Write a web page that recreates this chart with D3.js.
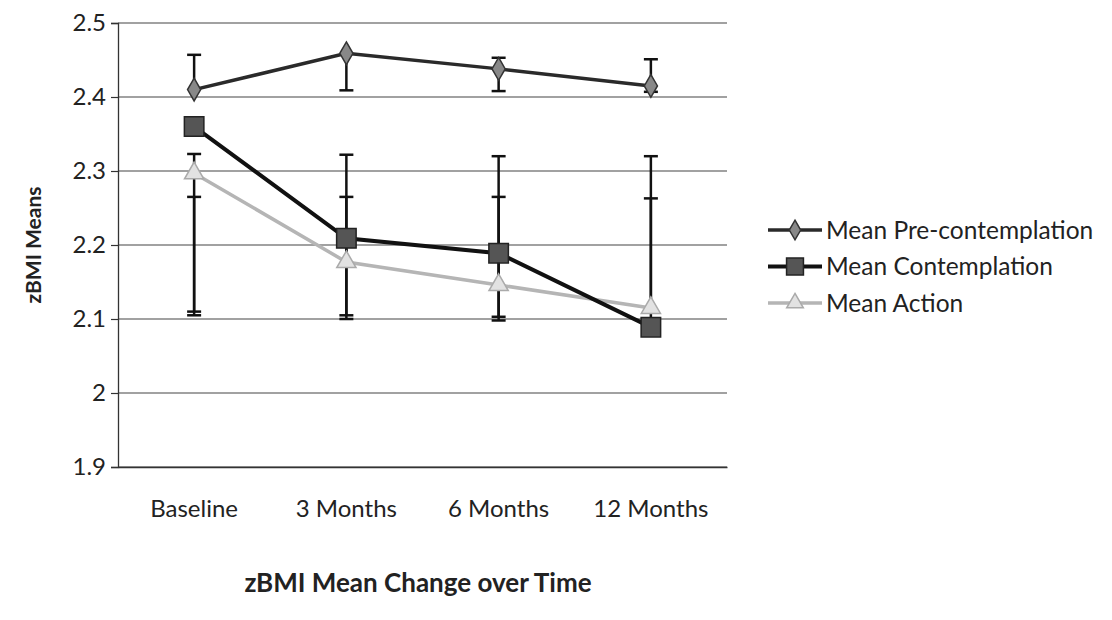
<!DOCTYPE html>
<html>
<head>
<meta charset="utf-8">
<script src="https://cdn.jsdelivr.net/npm/d3@7/dist/d3.min.js"></script>
<style>
html,body{margin:0;padding:0;background:#fff;}
svg{display:block;}
text{font-family:Lato,"Open Sans",sans-serif;fill:#222;}
</style>
</head>
<body>
<svg id="chart" width="1112" height="620"></svg>
<script>
const categories = ["Baseline", "3 Months", "6 Months", "12 Months"];
const seriesNames = ["Mean Pre-contemplation", "Mean Contemplation", "Mean Action"];
const preValues = [2.41, 2.459, 2.438, 2.415];
const contValues = [2.36, 2.209, 2.189, 2.089];
const actValues = [2.297, 2.177, 2.146, 2.115];
const preErrLow = [2.41, 2.409, 2.408, 2.407];
const preErrHigh = [2.457, 2.459, 2.453, 2.451];
const contErrLow = [2.105, 2.10, 2.098, 2.089];
const contErrHigh = [2.323, 2.322, 2.32, 2.32];
const actErrLow = [2.11, 2.105, 2.103, 2.115];
const actErrHigh = [2.265, 2.265, 2.265, 2.263];
const yTicks = [1.9, 2.0, 2.1, 2.2, 2.3, 2.4, 2.5];
const yTickLabels = ["1.9", "2", "2.1", "2.2", "2.3", "2.4", "2.5"];

const svg = d3.select("#chart");
const mLeft = 118, mRight = 727, mTop = 23, mBottom = 467;

const x = d3.scaleBand().domain(categories).range([mLeft, mRight]);
const y = d3.scaleLinear().domain([1.9, 2.5]).range([mBottom, mTop]);
const cx = c => x(c) + x.bandwidth() / 2;

// gridlines
svg.append("g").selectAll("line").data(yTicks).join("line")
  .attr("x1", mLeft).attr("x2", mRight)
  .attr("y1", d => y(d)).attr("y2", d => y(d))
  .attr("stroke", "#444").attr("stroke-width", 1.2);

// y axis
const yAxis = svg.append("g").attr("transform", `translate(${mLeft},0)`)
  .call(d3.axisLeft(y).tickValues(yTicks).tickFormat((d, i) => yTickLabels[i]).tickSize(7).tickPadding(5));
yAxis.select(".domain").attr("stroke", "#333").attr("stroke-width", 1.3);
yAxis.selectAll(".tick line").attr("stroke", "#333").attr("stroke-width", 1.2);
yAxis.selectAll(".tick text").style("font-size", "24px").style("font-family", "Lato, sans-serif").attr("fill", "#222");

// x axis
const xAxis = svg.append("g").attr("transform", `translate(0,${mBottom})`)
  .call(d3.axisBottom(x).tickSize(0).tickPadding(33));
xAxis.select(".domain").attr("stroke", "#333").attr("stroke-width", 1.3);
xAxis.selectAll(".tick text").style("font-size", "24px").style("font-family", "Lato, sans-serif").attr("fill", "#222");

// error bars
function errorBars(lows, highs, vals) {
  const g = svg.append("g");
  categories.forEach((c, i) => {
    const xc = cx(c);
    g.append("line").attr("x1", xc).attr("x2", xc)
      .attr("y1", y(highs[i])).attr("y2", y(lows[i]))
      .attr("stroke", "#111").attr("stroke-width", 2.5);
    [lows[i], highs[i]].forEach(v => {
      if (Math.abs(v - vals[i]) > 0.004) {
        g.append("line").attr("x1", xc - 7).attr("x2", xc + 7)
          .attr("y1", y(v)).attr("y2", y(v))
          .attr("stroke", "#111").attr("stroke-width", 2.5);
      }
    });
  });
}
errorBars(contErrLow, contErrHigh, contValues);
errorBars(actErrLow, actErrHigh, actValues);
errorBars(preErrLow, preErrHigh, preValues);

const line = d3.line().x((d, i) => cx(categories[i])).y(d => y(d));

const styles = [
  {vals: preValues, stroke: "#2a2a2a", width: 3.5, sym: d3.symbolDiamond, size: 150, fill: "#888", sStroke: "#333"},
  {vals: contValues, stroke: "#111", width: 4, sym: d3.symbolSquare, size: 380, fill: "#555", sStroke: "#222"},
  {vals: actValues, stroke: "#b5b5b5", width: 3.5, sym: d3.symbolTriangle, size: 160, fill: "#e2e2e2", sStroke: "#aaa"}
];

[2, 1, 0].forEach(k => {
  const s = styles[k];
  svg.append("path").datum(s.vals).attr("d", line)
    .attr("fill", "none").attr("stroke", s.stroke).attr("stroke-width", s.width);
  svg.append("g").selectAll("path").data(s.vals).join("path")
    .attr("transform", (d, i) => `translate(${cx(categories[i])},${y(d)})`)
    .attr("d", d3.symbol().type(s.sym).size(s.size))
    .attr("fill", s.fill).attr("stroke", s.sStroke).attr("stroke-width", 1.5);
});

// legend
const leg = svg.append("g");
styles.forEach((s, i) => {
  const ly = 230 + i * 36.5;
  leg.append("line").attr("x1", 768).attr("x2", 822).attr("y1", ly).attr("y2", ly)
    .attr("stroke", s.stroke).attr("stroke-width", s.width);
  leg.append("path").attr("transform", `translate(795,${ly})`)
    .attr("d", d3.symbol().type(s.sym).size(s.size * 0.75))
    .attr("fill", s.fill).attr("stroke", s.sStroke).attr("stroke-width", 1.5);
  leg.append("text").attr("x", 826).attr("y", ly).attr("dy", "0.35em")
    .style("font-size", "24.5px").text(seriesNames[i]);
});

// titles
svg.append("text").attr("transform", `translate(34,${(mTop + mBottom) / 2}) rotate(-90)`)
  .attr("text-anchor", "middle").attr("dy", "0.35em")
  .style("font-size", "21px").style("font-weight", "bold").text("zBMI Means");
svg.append("text").attr("x", 418).attr("y", 583).attr("text-anchor", "middle").attr("dy", "0.35em")
  .style("font-size", "26px").style("font-weight", "bold").text("zBMI Mean Change over Time");
</script>
</body>
</html>
